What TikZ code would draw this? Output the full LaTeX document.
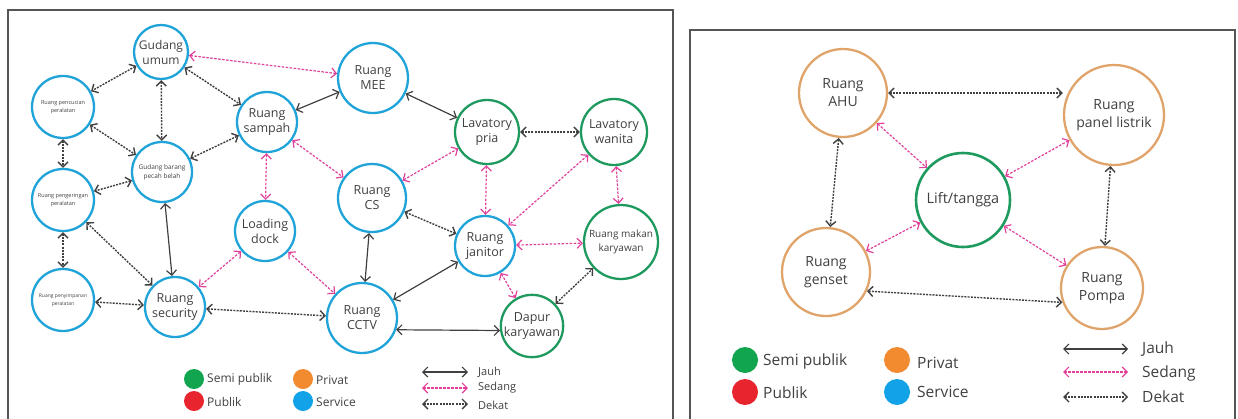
\documentclass[tikz,border=0pt]{standalone}
\usepackage{fontspec}
\setmainfont{Open Sans}
\usetikzlibrary{arrows.meta}
\definecolor{cblue}{HTML}{1FA3D8}
\definecolor{cgreen}{HTML}{1E9A5E}
\definecolor{corange}{HTML}{E0A46A}
\definecolor{cmag}{HTML}{E0409A}
\definecolor{dgreen}{HTML}{12A550}
\definecolor{dred}{HTML}{E8242E}
\definecolor{dorange}{HTML}{F28A30}
\definecolor{dblue}{HTML}{12A2E8}
\definecolor{frame}{HTML}{555555}
\definecolor{txt}{HTML}{404040}
\tikzset{
  rm/.style={circle,draw,line width=2.3pt,inner sep=0pt,align=center,text=txt},
  sv/.style={rm,draw=cblue},
  sp/.style={rm,draw=cgreen},
  pv/.style={rm,draw=corange},
  fa/.style={font=\fontsize{12.5}{15}\selectfont},
  fs/.style={font=\fontsize{5.5}{8}\selectfont},
  tip/.style={{Straight Barb[length=5pt,width=10pt]}-{Straight Barb[length=5pt,width=10pt]}},
  jauh/.style={draw=black!75,line width=1.2pt,tip},
  sedang/.style={draw=cmag,line width=1.2pt,dash pattern=on 2.5pt off 1.5pt,tip},
  dekat/.style={draw=black!75,line width=1.4pt,dash pattern=on 2pt off 1.2pt,tip},
  dot/.style={circle,inner sep=0pt},
  lbl/.style={anchor=west,text=txt,inner sep=0pt}
}
\begin{document}
\begin{tikzpicture}[x=1pt,y=-1pt]
\useasboundingbox (0,0) rectangle (1238,418);
% frames
\draw[frame,line width=1.5pt] (8,420) -- (8,10) -- (673,10) -- (673,420);
\draw[frame,line width=1.5pt] (690,420) -- (690,30) -- (1235,30) -- (1235,420);
% left panel nodes
\node[sv,minimum size=54pt,font=\fontsize{12}{15}\selectfont] (gu) at (161,52) {Gudang\\umum};
\node[sv,minimum size=62pt,fs] (pc) at (63,107) {Ruang pencucian\\peralatan};
\node[sv,minimum size=60pt,font=\fontsize{6.5}{9}\selectfont] (gb) at (162,172) {Gudang barang\\pecah belah};
\node[sv,minimum size=60pt,fa] (rs) at (267,122) {Ruang\\sampah};
\node[sv,minimum size=62pt,fs] (pg) at (63,200) {Ruang pengeringan\\peralatan};
\node[sv,minimum size=62pt,font=\fontsize{5}{8}\selectfont] (py) at (63,300) {Ruang penyimpanan\\peralatan};
\node[sv,minimum size=60pt,fa] (se) at (175,307) {Ruang\\security};
\node[sv,minimum size=60pt,fa] (ld) at (265,231) {Loading\\dock};
\node[sv,minimum size=70pt,fa] (me) at (373,78) {Ruang\\MEE};
\node[sv,minimum size=68pt,fa] (cs) at (372,198) {Ruang\\CS};
\node[sp,minimum size=64pt,fa] (lp) at (487,132) {Lavatory\\pria};
\node[sp,minimum size=66pt,fa] (lw) at (614,132) {Lavatory\\wanita};
\node[sv,minimum size=60pt,fa] (jn) at (485,246) {Ruang\\janitor};
\node[sp,minimum size=74pt,font=\fontsize{10}{14}\selectfont] (mk) at (621,242) {Ruang makan\\karyawan};
\node[sv,minimum size=70pt,fa] (cc) at (362,318) {Ruang\\CCTV};
\node[sp,minimum size=60pt,fa] (dp) at (532,326) {Dapur\\karyawan};
% left edges
\draw[dekat] (gu) -- (pc);
\draw[dekat] (gu) -- (gb);
\draw[dekat] (gu) -- (rs);
\draw[dekat] (pc) -- (gb);
\draw[dekat] (pc) -- (pg);
\draw[dekat] (gb) -- (rs);
\draw[dekat] (gb) -- (pg);
\draw[dekat] (pg) -- (py);
\draw[dekat] (pg) -- (se);
\draw[dekat] (py) -- (se);
\draw[dekat] (se) -- (cc);
\draw[dekat] (cs) -- (jn);
\draw[dekat] (lp) -- (lw);
\draw[dekat] (dp) -- (mk);
\draw[jauh] (gb) -- (se);
\draw[jauh] (rs) -- (me);
\draw[jauh] (me) -- (lp);
\draw[jauh] (cs) -- (cc);
\draw[jauh] (cc) -- (jn);
\draw[jauh] (cc.-19) -- (dp.188);
\draw[sedang] (gu) -- (me);
\draw[sedang] (rs) -- (ld);
\draw[sedang] (rs) -- (cs);
\draw[sedang] (cs) -- (lp);
\draw[sedang] (ld) -- (se);
\draw[sedang] (ld) -- (cc);
\draw[sedang] (lp) -- (jn);
\draw[sedang] (lw) -- (jn);
\draw[sedang] (lw) -- (mk);
\draw[sedang] (jn) -- (mk);
\draw[sedang] (jn) -- (dp);
% left legend
\node[dot,fill=dgreen,minimum size=20pt] (l1) at (194,379) {};
\node[dot,fill=dred,minimum size=20pt] (l2) at (194,401) {};
\node[dot,fill=dorange,minimum size=20pt] (l3) at (303,379) {};
\node[dot,fill=dblue,minimum size=20pt] (l4) at (303,401) {};
\node[lbl,font=\fontsize{12}{14}\selectfont] at (207,379) {Semi publik};
\node[lbl,font=\fontsize{12}{14}\selectfont] at (207,402) {Publik};
\node[lbl,font=\fontsize{12}{14}\selectfont] at (316,380) {Privat};
\node[lbl,font=\fontsize{12}{14}\selectfont] at (316,402) {Service};
\coordinate (a1) at (422,372); \coordinate (b1) at (468,372);
\coordinate (a2) at (422,388); \coordinate (b2) at (468,388);
\coordinate (a3) at (422,404); \coordinate (b3) at (468,404);
\draw[jauh] (a1) -- (b1);
\draw[sedang] (a2) -- (b2);
\draw[dekat] (a3) -- (b3);
\node[lbl,font=\fontsize{11}{13}\selectfont] at (478,372) {Jauh};
\node[lbl,font=\fontsize{11}{13}\selectfont] at (478,388) {Sedang};
\node[lbl,font=\fontsize{11}{13}\selectfont] at (478,405) {Dekat};
% right panel nodes
\node[pv,minimum size=88pt,font=\fontsize{14}{18}\selectfont] (ahu) at (843,93) {Ruang\\AHU};
\node[pv,minimum size=100pt,font=\fontsize{14}{18}\selectfont] (pl) at (1114,115) {Ruang\\panel listrik};
\node[sp,minimum size=94pt,line width=2.6pt,font=\fontsize{14.5}{18}\selectfont] (lt) at (963,200) {Lift/tangga};
\node[pv,minimum size=88pt,font=\fontsize{14}{18}\selectfont] (gs) at (826,272) {Ruang\\genset};
\node[pv,minimum size=82pt,font=\fontsize{14}{18}\selectfont] (pp) at (1102,288) {Ruang\\Pompa};
\draw[dekat] (ahu) -- (pl.west |- ahu);
\draw[dekat] (ahu) -- (gs);
\draw[dekat] (gs.-25) -- (pp.200);
\draw[dekat] (pl) -- (pp);
\draw[sedang] (ahu) -- (lt);
\draw[sedang] (pl) -- (lt);
\draw[sedang] (gs) -- (lt);
\draw[sedang] (pp) -- (lt);
% right legend
\node[dot,fill=dgreen,minimum size=26pt] (r1) at (745,360) {};
\node[dot,fill=dred,minimum size=26pt] (r2) at (745,392) {};
\node[dot,fill=dorange,minimum size=26pt] (r3) at (897,360) {};
\node[dot,fill=dblue,minimum size=26pt] (r4) at (897,392) {};
\node[lbl,font=\fontsize{15.5}{18}\selectfont] at (763,361) {Semi publik};
\node[lbl,font=\fontsize{15.5}{18}\selectfont] at (763,393) {Publik};
\node[lbl,font=\fontsize{15.5}{18}\selectfont] at (917,363) {Privat};
\node[lbl,font=\fontsize{15.5}{18}\selectfont] at (917,392) {Service};
\coordinate (c1) at (1063,349); \coordinate (d1) at (1128,349);
\coordinate (c2) at (1063,372); \coordinate (d2) at (1128,372);
\coordinate (c3) at (1063,397); \coordinate (d3) at (1128,397);
\draw[jauh] (c1) -- (d1);
\draw[sedang] (c2) -- (d2);
\draw[dekat] (c3) -- (d3);
\node[lbl,font=\fontsize{15.5}{18}\selectfont] at (1142,349) {Jauh};
\node[lbl,font=\fontsize{15.5}{18}\selectfont] at (1142,373) {Sedang};
\node[lbl,font=\fontsize{15.5}{18}\selectfont] at (1142,397) {Dekat};
\end{tikzpicture}
\end{document}
